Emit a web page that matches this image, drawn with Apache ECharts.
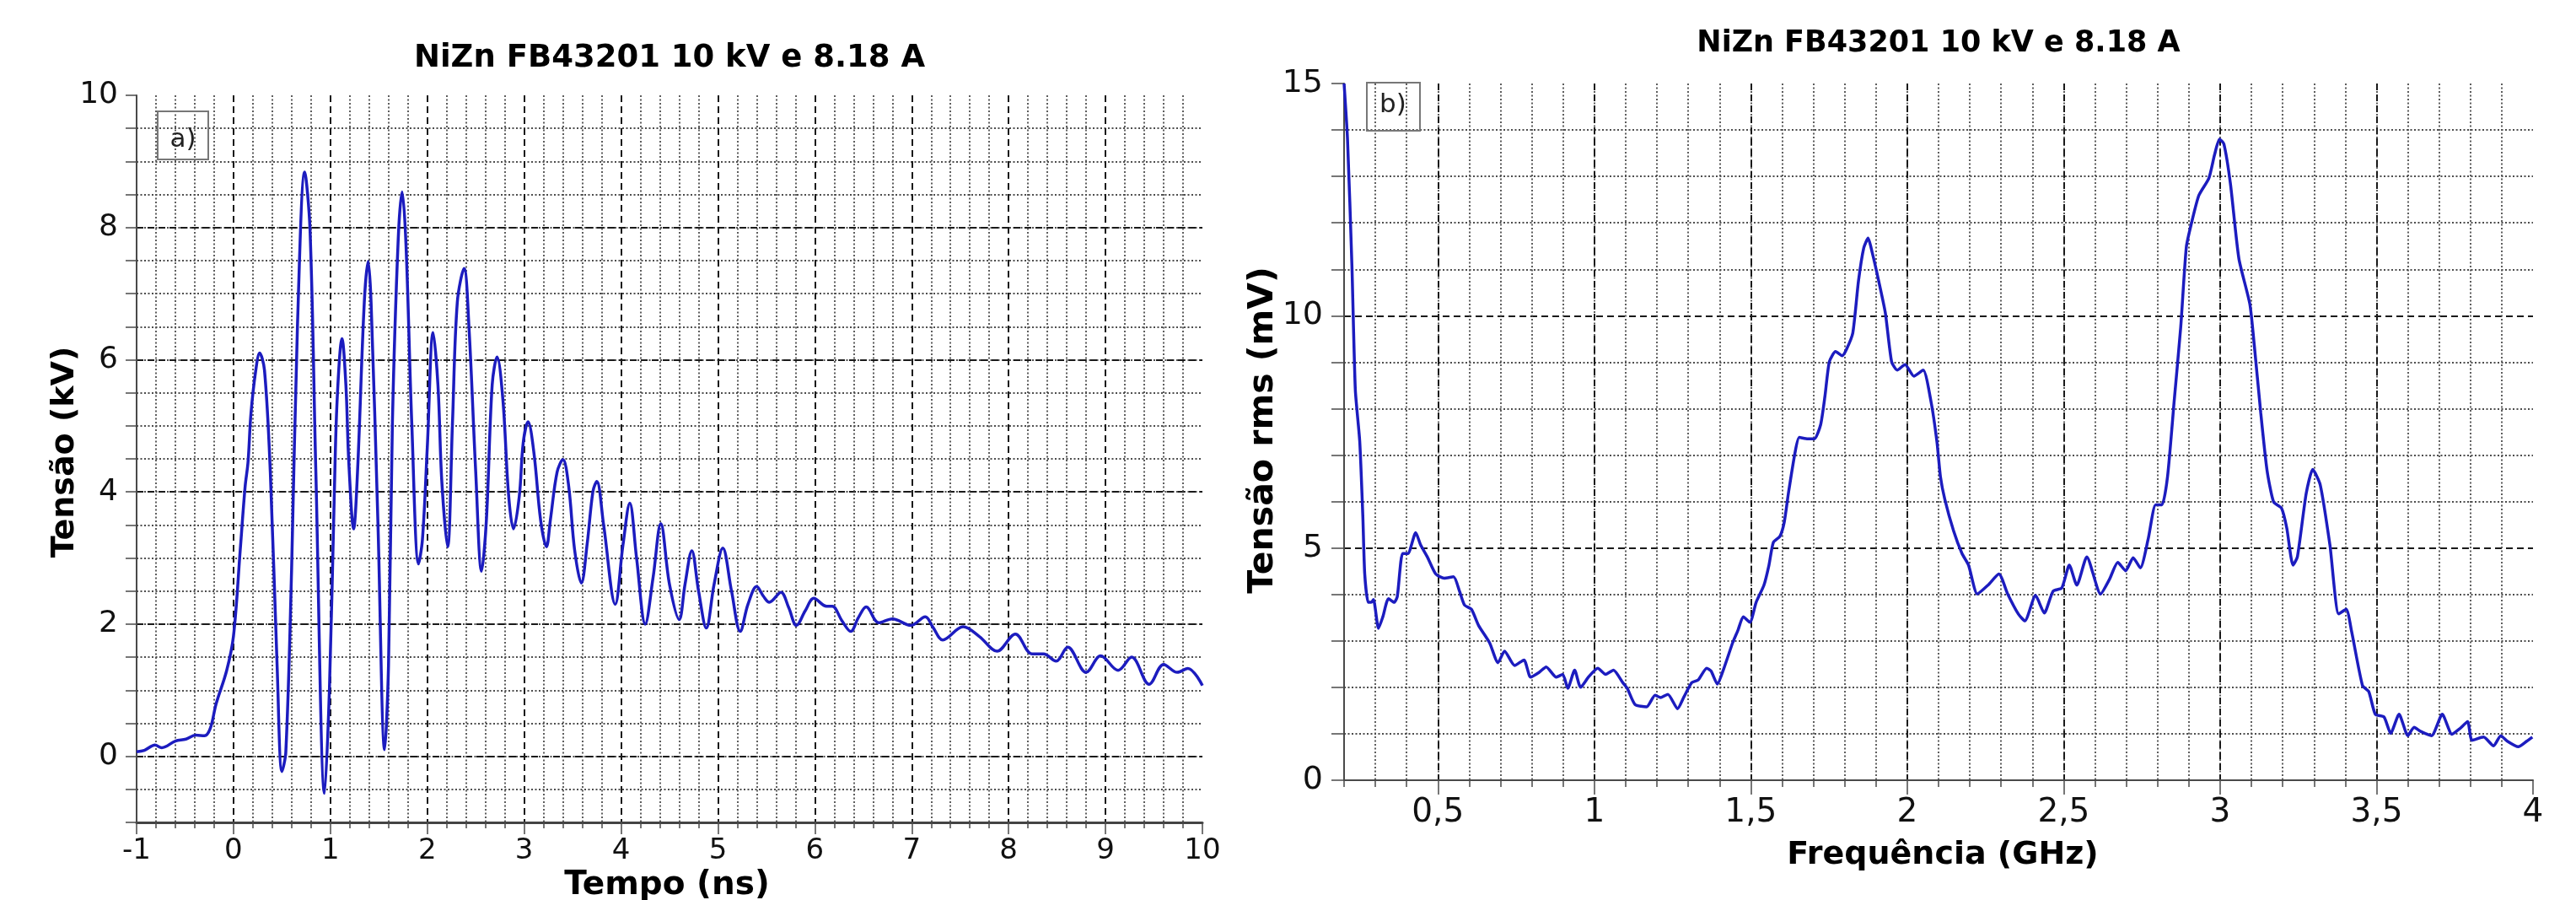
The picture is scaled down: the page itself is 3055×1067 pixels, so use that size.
<!DOCTYPE html>
<html>
<head>
<meta charset="utf-8">
<title>NiZn FB43201 10 kV e 8.18 A</title>
<script src="https://cdn.jsdelivr.net/npm/echarts@6.0.0/dist/echarts.min.js"></script>
<style>
  html, body { margin: 0; padding: 0; background: #ffffff; }
  #chart { width: 3055px; height: 1067px; }
</style>
</head>
<body>
<div id="chart"></div>
<script>
// a) tensão no tempo (lida do gráfico)
const tempoNs = [
  -1.00, -0.92, -0.81, -0.74, -0.60, -0.49, -0.39, -0.30, -0.24, -0.18, -0.07, 0.00,
  0.07, 0.12, 0.15, 0.18, 0.23, 0.27, 0.32, 0.38, 0.45, 0.50, 0.54, 0.60, 0.66, 0.735,
  0.79, 0.85, 0.94, 0.99, 1.04, 1.07, 1.12, 1.16, 1.19, 1.24, 1.28, 1.35, 1.39, 1.42,
  1.49, 1.56, 1.60, 1.64, 1.70, 1.74, 1.78, 1.84, 1.91, 1.95, 2.00, 2.06, 2.11, 2.15,
  2.21, 2.26, 2.31, 2.38, 2.43, 2.50, 2.56, 2.61, 2.67, 2.72, 2.78, 2.84, 2.89, 2.95,
  2.99, 3.04, 3.10, 3.17, 3.23, 3.27, 3.34, 3.40, 3.46, 3.52, 3.59, 3.65, 3.71, 3.75,
  3.82, 3.94, 4.02, 4.09, 4.16, 4.25, 4.33, 4.41, 4.50, 4.60, 4.66, 4.73, 4.80, 4.88,
  4.96, 5.05, 5.14, 5.23, 5.31, 5.40, 5.47, 5.53, 5.65, 5.73, 5.81, 5.90, 5.99, 6.12,
  6.18, 6.28, 6.37, 6.45, 6.53, 6.66, 6.80, 6.99, 7.14, 7.22, 7.32, 7.53, 7.70, 7.88,
  8.07, 8.24, 8.36, 8.49, 8.61, 8.80, 8.95, 9.13, 9.27, 9.45, 9.60, 9.74, 9.85, 10.00
];
const tensaoKv = [
  0.07, 0.09, 0.17, 0.13, 0.23, 0.26, 0.32, 0.31, 0.42, 0.79, 1.30, 1.82,
  3.13, 4.08, 4.45, 5.18, 5.84, 6.10, 5.84, 4.30, 1.38, -0.23, 0.06, 2.84, 6.50, 8.84,
  7.96, 4.30, -0.56, 1.01, 3.94, 5.40, 6.32, 5.62, 4.45, 3.44, 4.30, 6.87, 7.49, 6.87,
  3.57, 0.10, 1.38, 5.04, 7.82, 8.54, 7.75, 5.04, 2.91, 3.28, 4.67, 6.41, 5.62, 4.16,
  3.17, 5.04, 6.87, 7.38, 6.50, 4.30, 2.80, 3.57, 5.62, 6.04, 5.40, 3.94, 3.44, 3.94,
  4.74, 5.06, 4.60, 3.57, 3.17, 3.57, 4.30, 4.49, 4.08, 3.13, 2.62, 3.21, 4.01, 4.16,
  3.50, 2.30, 3.20, 3.83, 3.00, 2.00, 2.70, 3.52, 2.60, 2.07, 2.60, 3.11, 2.50, 1.94,
  2.60, 3.15, 2.50, 1.89, 2.30, 2.57, 2.42, 2.33, 2.48, 2.25, 1.98, 2.20, 2.39, 2.27,
  2.27, 2.05, 1.89, 2.10, 2.26, 2.02, 2.08, 1.98, 2.11, 1.95, 1.76, 1.96, 1.81, 1.59,
  1.85, 1.55, 1.55, 1.44, 1.65, 1.27, 1.52, 1.30, 1.50, 1.09, 1.39, 1.27, 1.33, 1.07
];

// b) espectro (lido do gráfico)
const freqGhz = [
  0.200, 0.211, 0.225, 0.236, 0.250, 0.260, 0.266, 0.277, 0.287, 0.294, 0.310, 0.324,
  0.342, 0.360, 0.370, 0.387, 0.404, 0.429, 0.445, 0.466, 0.493, 0.520, 0.550, 0.569,
  0.585, 0.607, 0.630, 0.665, 0.692, 0.713, 0.745, 0.775, 0.796, 0.823, 0.846, 0.878,
  0.899, 0.915, 0.937, 0.956, 0.981, 1.011, 1.036, 1.061, 1.091, 1.105, 1.130, 1.167,
  1.194, 1.212, 1.235, 1.266, 1.286, 1.311, 1.332, 1.359, 1.373, 1.393, 1.414, 1.442,
  1.459, 1.476, 1.497, 1.517, 1.542, 1.558, 1.572, 1.593, 1.607, 1.620, 1.641, 1.655,
  1.682, 1.703, 1.723, 1.737, 1.751, 1.771, 1.792, 1.806, 1.826, 1.844, 1.861, 1.875,
  1.888, 1.909, 1.930, 1.950, 1.968, 1.993, 2.021, 2.051, 2.076, 2.095, 2.106, 2.120,
  2.148, 2.175, 2.196, 2.224, 2.258, 2.293, 2.321, 2.355, 2.376, 2.410, 2.438, 2.466,
  2.494, 2.518, 2.542, 2.574, 2.618, 2.646, 2.673, 2.698, 2.722, 2.745, 2.770, 2.794,
  2.814, 2.832, 2.853, 2.874, 2.892, 2.908, 2.932, 2.964, 2.982, 2.998, 3.012, 3.033,
  3.060, 3.095, 3.109, 3.130, 3.150, 3.171, 3.196, 3.213, 3.233, 3.247, 3.275, 3.296,
  3.320, 3.351, 3.379, 3.403, 3.420, 3.455, 3.475, 3.496, 3.524, 3.545, 3.572, 3.600,
  3.620, 3.641, 3.676, 3.710, 3.741, 3.766, 3.791, 3.805, 3.842, 3.874, 3.897, 3.918,
  3.953, 3.980, 3.998
];
const tensaoRmsMv = [
  15.0, 13.8, 11.1, 8.4, 7.3, 5.68, 4.44, 3.83, 3.83, 3.89, 3.27, 3.52,
  3.91, 3.83, 3.95, 4.88, 4.88, 5.33, 5.06, 4.81, 4.44, 4.35, 4.38, 4.07,
  3.77, 3.68, 3.33, 2.96, 2.53, 2.78, 2.47, 2.59, 2.22, 2.32, 2.44, 2.22,
  2.28, 1.98, 2.37, 2.00, 2.22, 2.41, 2.28, 2.37, 2.10, 1.98, 1.63, 1.58,
  1.83, 1.78, 1.85, 1.54, 1.79, 2.10, 2.16, 2.41, 2.35, 2.07, 2.41, 2.96,
  3.23, 3.52, 3.40, 3.83, 4.20, 4.63, 5.12, 5.25, 5.56, 6.17, 7.04, 7.38,
  7.35, 7.35, 7.65, 8.27, 9.01, 9.23, 9.14, 9.28, 9.63, 10.74, 11.46, 11.67,
  11.36, 10.74, 10.06, 9.01, 8.83, 8.95, 8.70, 8.83, 8.15, 7.28, 6.54, 6.05,
  5.37, 4.88, 4.63, 4.01, 4.20, 4.44, 4.01, 3.58, 3.43, 3.98, 3.60, 4.07,
  4.14, 4.63, 4.20, 4.81, 4.01, 4.32, 4.69, 4.51, 4.79, 4.57, 5.19, 5.93,
  5.93, 6.54, 8.15, 9.75, 11.48, 11.98, 12.59, 12.96, 13.46, 13.80, 13.70, 12.84,
  11.23, 10.25, 9.38, 7.90, 6.67, 5.99, 5.86, 5.43, 4.63, 4.81, 6.17, 6.69,
  6.36, 5.06, 3.58, 3.68, 3.21, 2.04, 1.91, 1.42, 1.36, 1.01, 1.42, 0.96,
  1.14, 1.05, 0.96, 1.42, 0.99, 1.11, 1.26, 0.86, 0.93, 0.74, 0.96, 0.84,
  0.72, 0.84, 0.93
];

const titulo = "NiZn FB43201 10 kV e 8.18 A";
const FONT = "'DejaVu Sans', Verdana, sans-serif";
const AZUL = "#1c1cbf";
const EIXO = "#4a4a4a";
const TRACO = { color: "#1a1a1a", width: 2, type: [8, 5] };
const PONTO = { color: "#4d4d4d", width: 1.8, type: [2, 2.5] };

// posições dos dois painéis (px)
const gA = { left: 162, top: 113, width: 1264, height: 862 };
const gB = { left: 1594, top: 99, width: 1410, height: 826 };

const chart = echarts.init(document.getElementById("chart"));

chart.setOption({
  animation: false,
  backgroundColor: "#ffffff",
  grid: [
    { left: gA.left, top: gA.top, width: gA.width, height: gA.height, outerBoundsMode: "none" },
    // faixa 0..10 kV, só para rótulos e linhas tracejadas
    { left: gA.left, top: gA.top, width: gA.width, height: gA.height * 10 / 11, outerBoundsMode: "none" },
    { left: gB.left, top: gB.top, width: gB.width, height: gB.height, outerBoundsMode: "none" },
    // faixa 0,5..4 GHz, só para rótulos e linhas tracejadas
    {
      left: gB.left + gB.width * 0.3 / 3.8, top: gB.top,
      width: gB.width * 3.5 / 3.8, height: gB.height, outerBoundsMode: "none"
    },
  ],
  xAxis: [
    {
      gridIndex: 0, type: "value", min: -1, max: 10, interval: 1,
      axisLine: { show: true, onZero: false, lineStyle: { color: "#444", width: 3 } },
      axisTick: { show: true, length: 14, lineStyle: { color: EIXO, width: 1.5 } },
      minorTick: { show: true, splitNumber: 5, length: 7, lineStyle: { color: EIXO, width: 1.5 } },
      axisLabel: {
        show: true, margin: 17, fontFamily: FONT, fontSize: 34, color: "#111",
        showMinLabel: true, showMaxLabel: true,
      },
      splitLine: { show: true, showMaxLine: false, lineStyle: TRACO },
      minorSplitLine: { show: true, lineStyle: PONTO },
    },
    { gridIndex: 1, type: "value", min: -1, max: 10, show: false },
    {
      gridIndex: 2, type: "value", min: 0.2, max: 4, interval: 0.1,
      axisLine: { show: true, onZero: false, lineStyle: { color: EIXO, width: 2 } },
      axisTick: { show: true, length: 8, lineStyle: { color: EIXO, width: 1.5 } },
      axisLabel: { show: false },
      splitLine: { show: true, showMinLine: false, showMaxLine: false, lineStyle: PONTO },
    },
    {
      gridIndex: 3, type: "value", min: 0.5, max: 4, interval: 0.5,
      axisLine: { show: false, onZero: false },
      axisTick: { show: true, length: 17, lineStyle: { color: EIXO, width: 1.5 } },
      axisLabel: {
        show: true, margin: 19, fontFamily: FONT, fontSize: 39, color: "#111",
        showMinLabel: true, showMaxLabel: true,
        formatter: (v) => String(v).replace(".", ","),
      },
      splitLine: { show: true, showMaxLine: false, lineStyle: TRACO },
    },
  ],
  yAxis: [
    {
      gridIndex: 0, type: "value", min: -1, max: 10, interval: 0.5,
      axisLine: { show: true, onZero: false, lineStyle: { color: EIXO, width: 2 } },
      axisTick: { show: true, length: 13, lineStyle: { color: EIXO, width: 1.5 } },
      axisLabel: { show: false },
      splitLine: { show: true, showMinLine: false, showMaxLine: false, lineStyle: PONTO },
    },
    {
      gridIndex: 1, type: "value", min: 0, max: 10, interval: 2,
      axisLine: { show: false, onZero: false },
      axisTick: { show: false },
      axisLabel: {
        show: true, margin: 22, fontFamily: FONT, fontSize: 36, color: "#111",
        showMinLabel: true, showMaxLabel: true,
      },
      splitLine: { show: true, showMaxLine: false, lineStyle: TRACO },
    },
    {
      gridIndex: 2, type: "value", min: 0, max: 15, interval: 5,
      axisLine: { show: true, onZero: false, lineStyle: { color: EIXO, width: 2 } },
      axisTick: { show: true, length: 15, lineStyle: { color: EIXO, width: 1.5 } },
      minorTick: { show: true, splitNumber: 5, length: 15, lineStyle: { color: EIXO, width: 1.5 } },
      axisLabel: {
        show: true, margin: 25, fontFamily: FONT, fontSize: 38, color: "#111",
        showMinLabel: true, showMaxLabel: true,
      },
      splitLine: { show: true, showMinLine: false, showMaxLine: false, lineStyle: TRACO },
      minorSplitLine: { show: true, lineStyle: PONTO },
    },
    { gridIndex: 3, type: "value", min: 0, max: 15, show: false },
  ],
  series: [
    {
      name: "Tensão (kV)", type: "line", xAxisIndex: 0, yAxisIndex: 0,
      data: tempoNs.map((t, i) => [t, tensaoKv[i]]),
      showSymbol: false, smooth: 0.35, z: 10,
      lineStyle: { color: AZUL, width: 3.5 },
    },
    {
      name: "Tensão rms (mV)", type: "line", xAxisIndex: 2, yAxisIndex: 2,
      data: freqGhz.map((f, i) => [f, tensaoRmsMv[i]]),
      showSymbol: false, smooth: 0.2, z: 10,
      lineStyle: { color: AZUL, width: 3.5 },
    },
  ],
  graphic: [
    {
      type: "text", x: gA.left + gA.width / 2, y: 69, z: 20,
      style: {
        text: titulo, align: "center", verticalAlign: "middle",
        font: "bold 37px " + FONT, fill: "#000",
      },
    },
    {
      type: "text", x: gB.left + gB.width / 2, y: 52, z: 20,
      style: {
        text: titulo, align: "center", verticalAlign: "middle",
        font: "bold 35px " + FONT, fill: "#000",
      },
    },
    // nomes dos eixos
    {
      type: "text", x: gA.left + gA.width / 2 - 3, y: 1050, z: 20,
      style: { text: "Tempo (ns)", align: "center", verticalAlign: "middle", font: "bold 39px " + FONT, fill: "#000" },
    },
    {
      type: "text", x: 2304, y: 1014, z: 20,
      style: { text: "Frequência (GHz)", align: "center", verticalAlign: "middle", font: "bold 38px " + FONT, fill: "#000" },
    },
    {
      type: "text", x: 77, y: 536, rotation: Math.PI / 2, z: 20,
      style: { text: "Tensão (kV)", align: "center", verticalAlign: "middle", font: "bold 38px " + FONT, fill: "#000" },
    },
    {
      type: "text", x: 1498, y: 510, rotation: Math.PI / 2, z: 20,
      style: { text: "Tensão rms (mV)", align: "center", verticalAlign: "middle", font: "bold 41px " + FONT, fill: "#000" },
    },
    // caixas a) e b)
    {
      type: "rect", z: 20,
      shape: { x: 187, y: 132, width: 60, height: 57 },
      style: { fill: "none", stroke: "#777", lineWidth: 2 },
    },
    {
      type: "text", x: 217, y: 166, z: 20,
      style: { text: "a)", align: "center", verticalAlign: "middle", font: "31px " + FONT, fill: "#222" },
    },
    {
      type: "rect", z: 20,
      shape: { x: 1621, y: 98, width: 63, height: 57 },
      style: { fill: "none", stroke: "#777", lineWidth: 2 },
    },
    {
      type: "text", x: 1652, y: 125, z: 20,
      style: { text: "b)", align: "center", verticalAlign: "middle", font: "31px " + FONT, fill: "#222" },
    },
  ],
});
</script>
</body>
</html>
